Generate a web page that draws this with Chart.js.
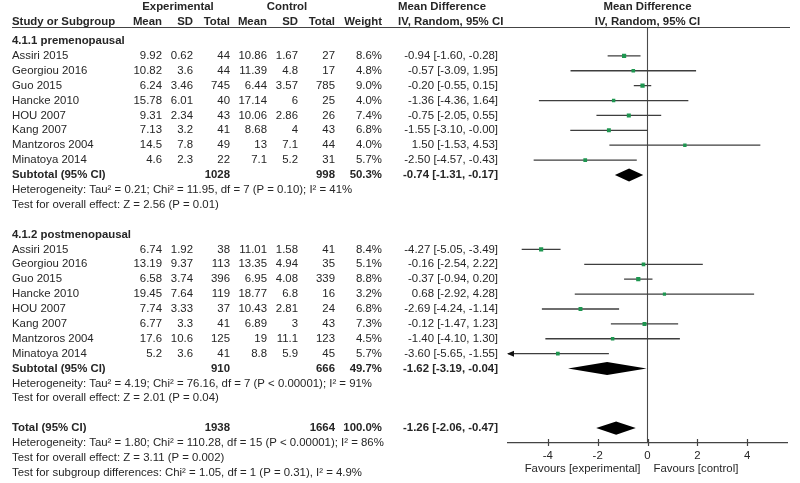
<!DOCTYPE html>
<html>
<head>
<meta charset="utf-8">
<script src="https://cdn.jsdelivr.net/npm/chart.js@4.4.0/dist/chart.umd.min.js"></script>
<style>
    html, body { margin: 0; padding: 0; background: #fff; }
    canvas { display: block; }
</style>
</head>
<body>
<canvas id="forest" width="800" height="483"></canvas>
<script>
// study names, same order in both subgroups
var studies = ["Assiri 2015", "Georgiou 2016", "Guo 2015", "Hancke 2010",
               "HOU 2007", "Kang 2007", "Mantzoros 2004", "Minatoya 2014"];

// 4.1.1 premenopausal
var preExpMean = [9.92, 10.82, 6.24, 15.78, 9.31, 7.13, 14.5, 4.6];
var preExpSD   = [0.62, 3.6, 3.46, 6.01, 2.34, 3.2, 7.8, 2.3];
var preExpN    = [44, 44, 745, 40, 43, 41, 49, 22];
var preCtlMean = [10.86, 11.39, 6.44, 17.14, 10.06, 8.68, 13, 7.1];
var preCtlSD   = [1.67, 4.8, 3.57, 6, 2.86, 4, 7.1, 5.2];
var preCtlN    = [27, 17, 785, 25, 26, 43, 44, 31];
var preWeight  = [8.6, 4.8, 9.0, 4.0, 7.4, 6.8, 4.0, 5.7];
var preMD      = [-0.94, -0.57, -0.20, -1.36, -0.75, -1.55, 1.50, -2.50];
var preLo      = [-1.60, -3.09, -0.55, -4.36, -2.05, -3.10, -1.53, -4.57];
var preHi      = [-0.28, 1.95, 0.15, 1.64, 0.55, -0.00, 4.53, -0.43];
var preSub     = { expN: 1028, ctlN: 998, weight: 50.3, md: -0.74, lo: -1.31, hi: -0.17 };
var preHet     = "Heterogeneity: Tau\u00b2 = 0.21; Chi\u00b2 = 11.95, df = 7 (P = 0.10); I\u00b2 = 41%";
var preTest    = "Test for overall effect: Z = 2.56 (P = 0.01)";

// 4.1.2 postmenopausal
var postExpMean = [6.74, 13.19, 6.58, 19.45, 7.74, 6.77, 17.6, 5.2];
var postExpSD   = [1.92, 9.37, 3.74, 7.64, 3.33, 3.3, 10.6, 3.6];
var postExpN    = [38, 113, 396, 119, 37, 41, 125, 41];
var postCtlMean = [11.01, 13.35, 6.95, 18.77, 10.43, 6.89, 19, 8.8];
var postCtlSD   = [1.58, 4.94, 4.08, 6.8, 2.81, 3, 11.1, 5.9];
var postCtlN    = [41, 35, 339, 16, 24, 43, 123, 45];
var postWeight  = [8.4, 5.1, 8.8, 3.2, 6.8, 7.3, 4.5, 5.7];
var postMD      = [-4.27, -0.16, -0.37, 0.68, -2.69, -0.12, -1.40, -3.60];
var postLo      = [-5.05, -2.54, -0.94, -2.92, -4.24, -1.47, -4.10, -5.65];
var postHi      = [-3.49, 2.22, 0.20, 4.28, -1.14, 1.23, 1.30, -1.55];
var postSub     = { expN: 910, ctlN: 666, weight: 49.7, md: -1.62, lo: -3.19, hi: -0.04 };
var postHet     = "Heterogeneity: Tau\u00b2 = 4.19; Chi\u00b2 = 76.16, df = 7 (P < 0.00001); I\u00b2 = 91%";
var postTest    = "Test for overall effect: Z = 2.01 (P = 0.04)";

// overall
var total     = { expN: 1938, ctlN: 1664, weight: 100.0, md: -1.26, lo: -2.06, hi: -0.47 };
var totalHet  = "Heterogeneity: Tau\u00b2 = 1.80; Chi\u00b2 = 110.28, df = 15 (P < 0.00001); I\u00b2 = 86%";
var totalTest = "Test for overall effect: Z = 3.11 (P = 0.002)";
var subgroupTest = "Test for subgroup differences: Chi\u00b2 = 1.05, df = 1 (P = 0.31), I\u00b2 = 4.9%";

// axis
var tickValues = [-4, -2, 0, 2, 4];
var axisMin = -5.6, axisMax = 5.6;

var FONT = '"Liberation Sans", Arial, sans-serif';
var FS = 11.4;
var INK = '#262626';

// row numbers (0 = top header line)
var preStart = 3, postStart = 16;

// right edges of the number columns
var colX = { em: 162, esd: 193, en: 230, cm: 267, csd: 298, cn: 335, w: 382, md: 498 };

function fmt(v) {
    return (Object.is(v, -0) ? '-' : '') + v.toFixed(2);
}
function effect(md, lo, hi) {
    return fmt(md) + ' [' + fmt(lo) + ', ' + fmt(hi) + ']';
}

// build the datasets
var squares = [], sizes = [], ciSets = [];
function addGroup(md, lo, hi, w, start) {
    md.forEach(function (m, i) {
        squares.push({ x: m, y: start + i });
        sizes.push(1.2 + Math.sqrt(w[i]) * 0.6);
        ciSets.push({
            data: [{ x: lo[i], y: start + i }, { x: hi[i], y: start + i }],
            showLine: true,
            borderColor: '#3e3e3e',
            borderWidth: 1.3,
            pointRadius: 0
        });
    });
}
addGroup(preMD, preLo, preHi, preWeight, preStart);
addGroup(postMD, postLo, postHi, postWeight, postStart);

var datasets = [{
    data: squares,
    pointStyle: 'rect',
    pointRadius: sizes,
    backgroundColor: '#1e9650',
    borderWidth: 0
}].concat(ciSets).concat([{
    data: [{ x: 0, y: 1.08 }, { x: 0, y: 29 }],
    showLine: true,
    borderColor: '#4a4a4a',
    borderWidth: 1.1,
    pointRadius: 0
}]);

function txt(ctx, s, x, y, align, bold) {
    ctx.font = (bold ? 'bold ' : '') + FS + 'px ' + FONT;
    ctx.textAlign = align;
    ctx.textBaseline = 'middle';
    ctx.fillStyle = INK;
    ctx.fillText(s, x, y);
}

var forestPlugin = {
    id: 'forest',
    beforeDraw: function (chart) {
        var ctx = chart.ctx;
        ctx.save();
        ctx.fillStyle = '#fff';
        ctx.fillRect(0, 0, chart.width, chart.height);
        ctx.restore();
    },
    afterDraw: function (chart) {
        var ctx = chart.ctx;
        var xs = chart.scales.x, ys = chart.scales.y;
        var Y = function (r) { return ys.getPixelForValue(r); };
        var X = function (v) { return xs.getPixelForValue(v); };
        var zero = X(0);
        ctx.save();

        // headers
        var h0 = Y(-0.28), h1 = Y(0.72);
        txt(ctx, 'Experimental', 178, h0, 'center', true);
        txt(ctx, 'Control', 287, h0, 'center', true);
        txt(ctx, 'Mean Difference', 398, h0, 'left', true);
        txt(ctx, 'Mean Difference', zero, h0, 'center', true);
        txt(ctx, 'Study or Subgroup', 12, h1, 'left', true);
        [['Mean', 'em'], ['SD', 'esd'], ['Total', 'en'], ['Mean', 'cm'],
         ['SD', 'csd'], ['Total', 'cn'], ['Weight', 'w']].forEach(function (c) {
            txt(ctx, c[0], colX[c[1]], h1, 'right', true);
        });
        txt(ctx, 'IV, Random, 95% CI', 398, h1, 'left', true);
        txt(ctx, 'IV, Random, 95% CI', zero, h1, 'center', true);

        ctx.strokeStyle = '#444';
        ctx.lineWidth = 1.2;
        ctx.beginPath();
        ctx.moveTo(12, Math.round(Y(1.08)) + 0.5);
        ctx.lineTo(790, Math.round(Y(1.08)) + 0.5);
        ctx.stroke();

        function group(title, start, eM, eS, eN, cM, cS, cN, w, md, lo, hi, sub, het, test) {
            txt(ctx, title, 12, Y(start - 1), 'left', true);
            studies.forEach(function (s, i) {
                var y = Y(start + i);
                txt(ctx, s, 12, y, 'left');
                txt(ctx, String(eM[i]), colX.em, y, 'right');
                txt(ctx, String(eS[i]), colX.esd, y, 'right');
                txt(ctx, String(eN[i]), colX.en, y, 'right');
                txt(ctx, String(cM[i]), colX.cm, y, 'right');
                txt(ctx, String(cS[i]), colX.csd, y, 'right');
                txt(ctx, String(cN[i]), colX.cn, y, 'right');
                txt(ctx, w[i].toFixed(1) + '%', colX.w, y, 'right');
                txt(ctx, effect(md[i], lo[i], hi[i]), colX.md, y, 'right');
                // arrow when the interval runs off the axis
                if (lo[i] < axisMin) {
                    var ax = X(axisMin);
                    ctx.fillStyle = '#111';
                    ctx.beginPath();
                    ctx.moveTo(ax - 1, y);
                    ctx.lineTo(ax + 6, y - 3);
                    ctx.lineTo(ax + 6, y + 3);
                    ctx.closePath();
                    ctx.fill();
                }
            });
            var ry = start + studies.length;
            summary(ry, 'Subtotal (95% CI)', sub);
            txt(ctx, het, 12, Y(ry + 1), 'left');
            txt(ctx, test, 12, Y(ry + 2), 'left');
        }

        function summary(r, label, s) {
            var y = Y(r);
            txt(ctx, label, 12, y, 'left', true);
            txt(ctx, String(s.expN), colX.en, y, 'right', true);
            txt(ctx, String(s.ctlN), colX.cn, y, 'right', true);
            txt(ctx, s.weight.toFixed(1) + '%', colX.w, y, 'right', true);
            txt(ctx, effect(s.md, s.lo, s.hi), colX.md, y, 'right', true);
            ctx.fillStyle = '#000';
            ctx.beginPath();
            ctx.moveTo(X(s.lo), y);
            ctx.lineTo(X(s.md), Y(r - 0.44));
            ctx.lineTo(X(s.hi), y);
            ctx.lineTo(X(s.md), Y(r + 0.44));
            ctx.closePath();
            ctx.fill();
        }

        group('4.1.1 premenopausal', preStart, preExpMean, preExpSD, preExpN, preCtlMean, preCtlSD,
              preCtlN, preWeight, preMD, preLo, preHi, preSub, preHet, preTest);
        group('4.1.2 postmenopausal', postStart, postExpMean, postExpSD, postExpN, postCtlMean, postCtlSD,
              postCtlN, postWeight, postMD, postLo, postHi, postSub, postHet, postTest);

        summary(28, 'Total (95% CI)', total);
        txt(ctx, totalHet, 12, Y(29), 'left');
        txt(ctx, totalTest, 12, Y(30), 'left');
        txt(ctx, subgroupTest, 12, Y(31), 'left');

        // tick marks crossing the axis line
        var axisY = chart.chartArea.bottom;
        ctx.strokeStyle = '#444';
        ctx.lineWidth = 1.2;
        tickValues.forEach(function (v) {
            var px = Math.round(X(v)) + 0.5;
            ctx.beginPath();
            ctx.moveTo(px, axisY - 4);
            ctx.lineTo(px, axisY + 3);
            ctx.stroke();
        });
        txt(ctx, 'Favours [experimental]', zero - 7, axisY + 26, 'right');
        txt(ctx, 'Favours [control]', zero + 6, axisY + 26, 'left');

        ctx.restore();
    }
};

var chart = new Chart(document.getElementById('forest'), {
    type: 'scatter',
    data: { datasets: datasets },
    options: {
        responsive: false,
        animation: false,
        devicePixelRatio: 1,
        layout: { padding: { left: 508, right: 13, top: 11.2, bottom: 0 } },
        plugins: { legend: { display: false }, tooltip: { enabled: false } },
        scales: {
            x: {
                type: 'linear',
                min: axisMin,
                max: axisMax,
                grid: { display: false, drawTicks: false },
                border: { display: true, color: '#444', width: 1.2 },
                ticks: {
                    padding: 6,
                    color: INK,
                    font: { family: FONT, size: FS }
                },
                afterBuildTicks: function (s) {
                    s.ticks = tickValues.map(function (v) { return { value: v }; });
                },
                afterFit: function (s) { s.height = 40; }
            },
            y: {
                type: 'linear',
                display: false,
                reverse: true,
                min: 0,
                max: 29
            }
        }
    },
    plugins: [forestPlugin]
});
</script>
</body>
</html>
